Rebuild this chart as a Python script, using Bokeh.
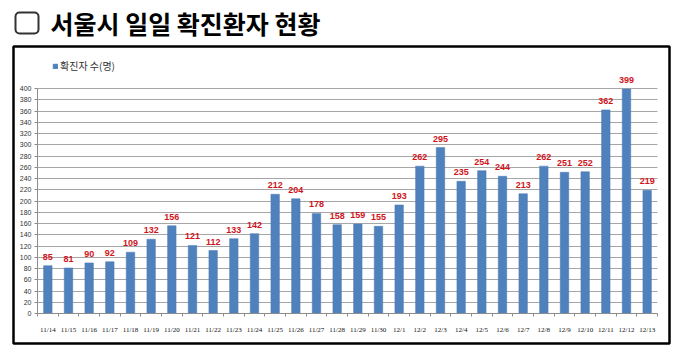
from bokeh.plotting import figure
from bokeh.models import (ColumnDataSource, FixedTicker, Label, BoxAnnotation,
                          Legend, LegendItem, Range1d)
from bokeh.core.properties import value
from bokeh.embed import file_html
from bokeh.resources import INLINE

dates = ["11/14", "11/15", "11/16", "11/17", "11/18", "11/19", "11/20", "11/21",
         "11/22", "11/23", "11/24", "11/25", "11/26", "11/27", "11/28", "11/29",
         "11/30", "12/1", "12/2", "12/3", "12/4", "12/5", "12/6", "12/7", "12/8",
         "12/9", "12/10", "12/11", "12/12", "12/13"]
cases = [85, 81, 90, 92, 109, 132, 156, 121, 112, 133, 142, 212, 204, 178, 158,
         159, 155, 193, 262, 295, 235, 254, 244, 213, 262, 251, 252, 362, 399, 219]
y_ticks = list(range(0, 401, 20))
title_text = "서울시 일일 확진환자 현황"
legend_text = "확진자 수(명)"

n = len(dates)
xs = [i + 0.5 for i in range(n)]
src = ColumnDataSource(dict(x=xs, y=cases, lbl=[str(v) for v in cases]))

W, H = 680, 357
# pixel placement of the plotting area (0..n, 0..400)
PL, PR, PT, PB = 37, 657, 88, 313
kx = (PR - PL) / n
ky = (PB - PT) / 400.0


def dx(cx):
    return (cx - PL) / kx


def dy(cy):
    return (PB - cy) / ky


p = figure(width=W, height=H, output_backend="svg", toolbar_location=None,
           x_range=Range1d(dx(0), dx(W)), y_range=Range1d(dy(H), dy(0)),
           min_border=0, min_border_left=0, min_border_right=0,
           min_border_top=0, min_border_bottom=0,
           background_fill_color="white", border_fill_color="white")
p.outline_line_color = None

bars = p.vbar(x="x", top="y", width=0.41, source=src, fill_color="#4f81bd",
              line_color="#4a7ab3", line_width=0.5)
p.text(x="x", y="y", text="lbl", source=src, text_align="center",
       text_baseline="bottom", y_offset=-6, text_color="#d0141c",
       text_font=value("Liberation Sans"), text_font_size="9px",
       text_font_style="bold")

# grid
p.xgrid.visible = False
p.ygrid.ticker = FixedTicker(ticks=y_ticks)
p.ygrid.grid_line_color = "#a6a6a6"
p.ygrid.grid_line_width = 1
p.ygrid.bounds = (0, 400)
p.ygrid.cross_bounds = (0, n)

# axes (placed inside the frame)
ya = p.yaxis[0]
ya.fixed_location = 0
ya.bounds = (0, 400)
ya.ticker = FixedTicker(ticks=y_ticks)
ya.axis_line_color = "#8c8c8c"
ya.major_tick_line_color = "#8c8c8c"
ya.major_tick_out = 3
ya.major_tick_in = 0
ya.minor_tick_line_color = None
ya.major_label_text_font = "Liberation Sans"
ya.major_label_text_font_size = "7px"
ya.major_label_text_color = "#333333"
ya.major_label_standoff = 3

xa = p.xaxis[0]
xa.fixed_location = 0
xa.bounds = (0, n)
xa.ticker = FixedTicker(ticks=xs, minor_ticks=list(range(n + 1)))
xa.major_label_overrides = {x: d for x, d in zip(xs, dates)}
xa.axis_line_color = "#8c8c8c"
xa.major_tick_line_color = None
xa.minor_tick_line_color = "#8c8c8c"
xa.minor_tick_out = 3
xa.minor_tick_in = 0
xa.major_label_text_font = "Liberation Serif"
xa.major_label_text_font_size = "7px"
xa.major_label_text_color = "#111111"
xa.major_label_standoff = 6

# outer chart box
p.add_layout(BoxAnnotation(left=dx(13), right=dx(669), top=dy(46), bottom=dy(343),
                           fill_color=None, fill_alpha=0, line_color="black",
                           line_width=2.5, line_alpha=1))
# checkbox
p.add_layout(BoxAnnotation(left=dx(15), right=dx(38), top=dy(12), bottom=dy(33),
                           fill_color=None, fill_alpha=0, line_color="#333333",
                           line_width=2, line_alpha=1, border_radius=4))
p.add_layout(Label(x=dx(50), y=dy(22), text=title_text,
                   text_font="Noto Sans CJK KR",
                   text_font_size="25px", text_font_style="bold",
                   text_color="black", text_baseline="middle", text_align="left"))

legend = Legend(items=[LegendItem(label=legend_text, renderers=[bars])],
                location=(52, H - 73), glyph_width=6, glyph_height=6,
                label_text_font="Noto Sans CJK KR", label_text_font_size="10px",
                label_text_color="#333333", padding=0, margin=0, spacing=0,
                label_standoff=2, border_line_color=None,
                background_fill_alpha=0)
p.add_layout(legend, "center")

open("out.html", "w").write(file_html(p, INLINE))
